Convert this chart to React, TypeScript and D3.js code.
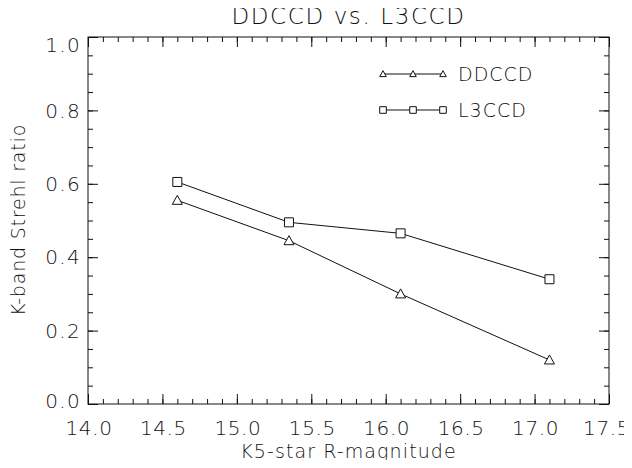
import { useEffect, useRef } from "react";
import * as d3 from "d3";

const magnitudes = [14.6, 15.35, 16.1, 17.1];
const ddccd = [0.555, 0.445, 0.3, 0.12];
const l3ccd = [0.605, 0.495, 0.465, 0.34];
const xTicks = [14.0, 14.5, 15.0, 15.5, 16.0, 16.5, 17.0, 17.5];
const yTicks = [0.0, 0.2, 0.4, 0.6, 0.8, 1.0];
const seriesNames = ["DDCCD", "L3CCD"];

const W = 632;
const H = 468;
const FONT = "'DejaVu Sans', sans-serif";
const INK = "#111";

export default function App() {
  const svgRef = useRef<SVGSVGElement>(null);

  useEffect(() => {
    if (!svgRef.current) return;
    const svg = d3.select(svgRef.current);
    svg.selectAll("*").remove();

    const left = 88;
    const right = 609;
    const top = 37;
    const bottom = 404;

    const x = d3.scaleLinear().domain([14.0, 17.5]).range([left, right]);
    const y = d3.scaleLinear().domain([0, 1]).range([bottom, top]);

    const minorX = d3.range(140, 176).map((d) => d / 10);
    const minorY = d3.range(0, 21).map((d) => d / 20);

    // frame
    svg
      .append("rect")
      .attr("x", left)
      .attr("y", top)
      .attr("width", right - left)
      .attr("height", bottom - top)
      .attr("fill", "none")
      .attr("stroke", INK)
      .attr("stroke-width", 1);

    const tickStyle = (g: d3.Selection<SVGGElement, unknown, null, undefined>) => {
      g.select(".domain").remove();
      g.selectAll(".tick line").attr("stroke", INK).attr("stroke-width", 1);
      g.selectAll(".tick text").remove();
    };

    // minor + major ticks on all four sides, pointing inward
    const addTicks = (size: number, xs: number[], ys: number[]) => {
      svg
        .append("g")
        .attr("transform", `translate(0,${bottom})`)
        .call(d3.axisBottom(x).tickValues(xs).tickSize(-size).tickSizeOuter(0))
        .call(tickStyle);
      svg
        .append("g")
        .attr("transform", `translate(0,${top})`)
        .call(d3.axisTop(x).tickValues(xs).tickSize(-size).tickSizeOuter(0))
        .call(tickStyle);
      svg
        .append("g")
        .attr("transform", `translate(${left},0)`)
        .call(d3.axisLeft(y).tickValues(ys).tickSize(-size).tickSizeOuter(0))
        .call(tickStyle);
      svg
        .append("g")
        .attr("transform", `translate(${right},0)`)
        .call(d3.axisRight(y).tickValues(ys).tickSize(-size).tickSizeOuter(0))
        .call(tickStyle);
    };
    addTicks(5, minorX, minorY);
    addTicks(10, xTicks, yTicks);

    const label = (sel: d3.Selection<any, any, any, any>, size: number, spacing: number) =>
      sel
        .attr("font-family", FONT)
        .attr("font-weight", 200)
        .attr("font-size", size)
        .attr("letter-spacing", spacing)
        .attr("fill", INK);

    // tick labels (last one kept inside the page edge)
    const lastX = xTicks[xTicks.length - 1];
    svg
      .append("g")
      .selectAll("text")
      .data(xTicks)
      .join("text")
      .attr("x", (d) => (d === lastX ? W - 2 : x(d) + 1))
      .attr("y", 435)
      .attr("text-anchor", (d) => (d === lastX ? "end" : "middle"))
      .call(label, 20, 0.6)
      .text((d) => d.toFixed(1));

    svg
      .append("g")
      .selectAll("text")
      .data(yTicks)
      .join("text")
      .attr("x", left - 7)
      .attr("y", (d) => y(d) + (d === 1 ? 8 : d === 0 ? -3 : 0))
      .attr("dy", "0.36em")
      .attr("text-anchor", "end")
      .call(label, 20, 1.3)
      .text((d) => d.toFixed(1));

    // titles
    svg
      .append("text")
      .attr("x", (left + right) / 2)
      .attr("y", 24)
      .attr("text-anchor", "middle")
      .call(label, 23, 1.6)
      .text("DDCCD vs. L3CCD");

    svg
      .append("text")
      .attr("x", (left + right) / 2)
      .attr("y", 458)
      .attr("text-anchor", "middle")
      .call(label, 19, 1.1)
      .text("K5-star R-magnitude");

    svg
      .append("text")
      .attr("transform", `translate(25,220) rotate(-90)`)
      .attr("text-anchor", "middle")
      .call(label, 19, 0.8)
      .text("K-band Strehl ratio");

    const line = d3
      .line<number>()
      .x((_, i) => x(magnitudes[i]))
      .y((d) => y(d));

    const triangle = (cx: number, cy: number, r: number) =>
      `M${cx - r},${cy + r * 0.8}L${cx},${cy - r}L${cx + r},${cy + r * 0.8}Z`;
    const square = (cx: number, cy: number, r: number) =>
      `M${cx - r},${cy - r}h${2 * r}v${2 * r}h${-2 * r}Z`;

    const series = [
      { name: seriesNames[0], values: ddccd, marker: triangle, r: 5 },
      { name: seriesNames[1], values: l3ccd, marker: square, r: 4.5 },
    ];

    series.forEach((s, si) => {
      svg
        .append("path")
        .datum(s.values)
        .attr("d", line)
        .attr("fill", "none")
        .attr("stroke", INK)
        .attr("stroke-width", 1);
      svg
        .append("g")
        .selectAll("path")
        .data(s.values)
        .join("path")
        .attr("d", (d, i) => s.marker(x(magnitudes[i]), y(d), s.r))
        .attr("fill", "white")
        .attr("stroke", INK)
        .attr("stroke-width", 1);

      // legend
      const ly = 74 + si * 36;
      const lx = [383, 413, 443];
      svg
        .append("line")
        .attr("x1", lx[0])
        .attr("x2", lx[2])
        .attr("y1", ly)
        .attr("y2", ly)
        .attr("stroke", INK)
        .attr("stroke-width", 1);
      lx.forEach((px) => {
        svg
          .append("path")
          .attr("d", s.marker(px, ly, 3.3))
          .attr("fill", "white")
          .attr("stroke", INK)
          .attr("stroke-width", 1);
      });
      svg
        .append("text")
        .attr("x", 458)
        .attr("y", ly)
        .attr("dy", "0.36em")
        .call(label, 19, 1)
        .text(s.name);
    });
  }, []);

  return (
    <div style={{ margin: -8 }}>
      <svg ref={svgRef} width={W} height={H} style={{ display: "block", background: "white" }} />
    </div>
  );
}
